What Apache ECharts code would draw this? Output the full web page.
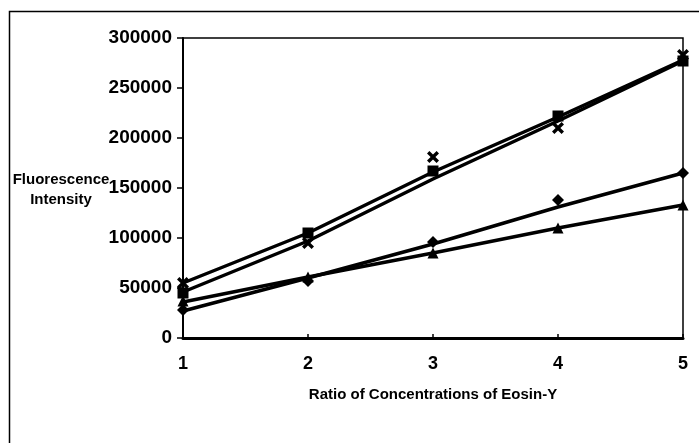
<!DOCTYPE html>
<html>
<head>
<meta charset="utf-8">
<script src="https://cdn.jsdelivr.net/npm/echarts@6/dist/echarts.min.js"></script>
<style>
html,body{margin:0;padding:0;background:#fff;}
#chart{width:699px;height:443px;}
</style>
</head>
<body>
<div id="chart"></div>
<script>
// x categories (ratio of concentrations)
var ratios = [1, 2, 3, 4, 5];
// y tick labels
var yTicks = [0, 50000, 100000, 150000, 200000, 250000, 300000];

// measured points (markers)
var squareVals   = [45000, 105000, 167000, 222000, 277000];
var crossVals    = [55000, 95000, 181000, 210000, 283000];
var diamondVals  = [28000, 57000, 96000, 138000, 165000];
var triangleVals = [37000, 61000, 85000, 110000, 133000];

// plotted lines
var lineUpper    = [55000, 105000, 166000, 221000, 278000];
var lineLower    = [46000, 97000, 159000, 217000, 277000];
var lineTriangle = [36000, 61000, 85000, 110000, 133000];
var lineDiamond  = [27000, 60000, 94000, 131000, 165000];

var xTitle = 'Ratio of Concentrations of Eosin-Y';
var yTitle = 'Fluorescence\nIntensity';

function pairs(vals){ return ratios.map(function(x,i){ return [x, vals[i]]; }); }

var FONT = '"Liberation Sans", Arial, sans-serif';
var crossPath = 'path://M2,0 L5,3 L8,0 L10,2 L7,5 L10,8 L8,10 L5,7 L2,10 L0,8 L3,5 L0,2 Z';

function lineSeries(vals){
  return {type:'line', data:pairs(vals), showSymbol:false, symbol:'none',
    lineStyle:{color:'#000', width:3.5}, z:2, silent:true};
}
function markerSeries(vals, symbol, size){
  return {type:'scatter', data:pairs(vals), symbol:symbol, symbolSize:size,
    itemStyle:{color:'#000', opacity:1}, z:3, silent:true};
}

var chart = echarts.init(document.getElementById('chart'), null, {renderer:'canvas'});
chart.setOption({
  animation:false,
  backgroundColor:'#fff',
  grid:{left:183, top:38, width:500, height:300, show:true, borderColor:'#000', borderWidth:1.5, backgroundColor:'transparent'},
  xAxis:{
    type:'value', min:ratios[0], max:ratios[ratios.length-1], interval:1,
    axisLine:{show:true, onZero:false, lineStyle:{color:'#000', width:3}},
    axisTick:{show:true, inside:true, length:4, lineStyle:{color:'#000', width:1.5}},
    splitLine:{show:false},
    axisLabel:{color:'#000', fontFamily:FONT, fontWeight:'bold', fontSize:18, margin:17,
      formatter:function(v){ return String(v); }},
    name:xTitle, nameLocation:'middle', nameGap:49,
    nameTextStyle:{color:'#000', fontFamily:FONT, fontWeight:'bold', fontSize:15}
  },
  yAxis:{
    type:'value', min:yTicks[0], max:yTicks[yTicks.length-1], interval:yTicks[1]-yTicks[0],
    axisLine:{show:true, lineStyle:{color:'#000', width:2}},
    axisTick:{show:true, inside:false, length:6, lineStyle:{color:'#000', width:1.5}},
    splitLine:{show:false},
    axisLabel:{color:'#000', fontFamily:FONT, fontWeight:'bold', fontSize:19, margin:11,
      formatter:function(v){ return String(v); }}
  },
  graphic:[
    {type:'rect', left:7, top:9, silent:true, z:0,
      shape:{width:700, height:433}, style:{fill:'none', stroke:'#000', lineWidth:1.5}},
    {type:'text', x:61, y:190, silent:true, z:10,
      style:{text:yTitle, fill:'#000', font:'bold 15px ' + FONT, align:'center', verticalAlign:'middle', lineHeight:20}}
  ],
  series:[
    lineSeries(lineUpper),
    lineSeries(lineLower),
    lineSeries(lineTriangle),
    lineSeries(lineDiamond),
    markerSeries(squareVals, 'rect', 11),
    markerSeries(crossVals, crossPath, 12),
    markerSeries(diamondVals, 'diamond', 12),
    markerSeries(triangleVals, 'triangle', 11)
  ]
});
</script>
</body>
</html>
